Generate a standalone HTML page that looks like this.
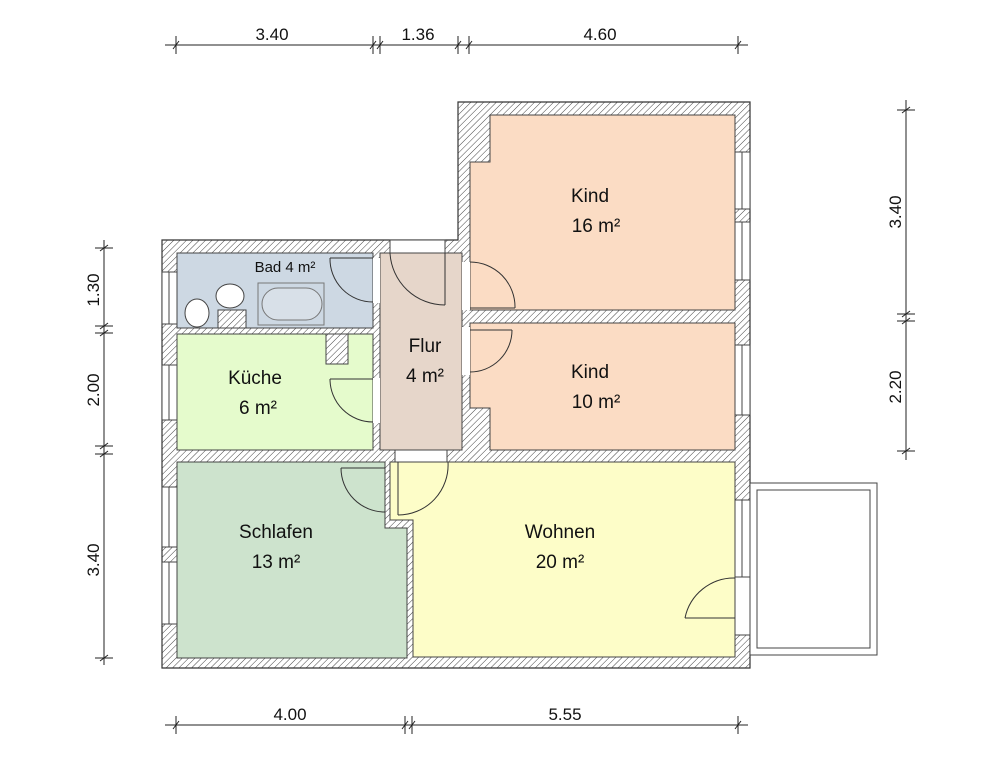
<!DOCTYPE html>
<html><head><meta charset="utf-8"><style>
html,body{margin:0;padding:0;background:#fff}
svg{display:block}
text{font-family:"Liberation Sans",Arial,sans-serif;fill:#111}
</style></head><body>
<svg width="1000" height="766" viewBox="0 0 1000 766" xmlns="http://www.w3.org/2000/svg">
<defs>
<pattern id="h" width="4.5" height="4.5" patternUnits="userSpaceOnUse" patternTransform="rotate(45)">
<rect width="4.5" height="4.5" fill="#fff"/><line x1="0" y1="0" x2="0" y2="4.5" stroke="#444" stroke-width="1"/>
</pattern>
</defs>
<polygon points="162,240 458,240 458,102 750,102 750,668 162,668" fill="url(#h)" stroke="#333" stroke-width="1.2"/>
<rect x="177" y="253" width="196" height="75" fill="#cdd8e3" stroke="#444"/>
<rect x="177" y="334" width="196" height="116" fill="#e5fbcc" stroke="#444"/>
<rect x="326" y="334" width="22" height="30" fill="url(#h)" stroke="#444"/>
<rect x="380" y="253" width="82" height="197" fill="#e6d6ca" stroke="#444"/>
<polygon points="490,115 735,115 735,310 470,310 470,162 490,162" fill="#fbdcc4" stroke="#444"/>
<polygon points="470,323 735,323 735,450 490,450 490,408 470,408" fill="#fbdcc4" stroke="#444"/>
<polygon points="177,462 385,462 385,528 407,528 407,658 177,658" fill="#cde3cd" stroke="#444"/>
<polygon points="390,462 735,462 735,657 413,657 413,520 390,520" fill="#fdfdc8" stroke="#444"/>
<rect x="258" y="283" width="66" height="42" fill="#cdd8e3" stroke="#777"/>
<rect x="262" y="288" width="60" height="32" rx="16" fill="#d8e0e8" stroke="#777"/>
<ellipse cx="197" cy="313" rx="12" ry="14" fill="#fff" stroke="#444"/>
<ellipse cx="230" cy="296" rx="14" ry="12" fill="#fff" stroke="#444"/>
<rect x="218" y="310" width="28" height="18" fill="url(#h)" stroke="#444"/>
<rect x="390" y="240" width="55" height="13" fill="#fff" stroke="#444"/>
<line x1="445" y1="253" x2="445" y2="305" stroke="#333"/>
<path d="M445,305 A55,55 0 0 1 390,253" fill="none" stroke="#333"/>
<rect x="462" y="262" width="8" height="48" fill="#fff"/>
<line x1="470" y1="308" x2="515" y2="308" stroke="#333"/>
<path d="M515,308 A45,45 0 0 0 470,262" fill="none" stroke="#333"/>
<rect x="462" y="327" width="8" height="48" fill="#fff"/>
<line x1="470" y1="330" x2="512" y2="330" stroke="#333"/>
<path d="M512,330 A42,42 0 0 1 470,372" fill="none" stroke="#333"/>
<rect x="373" y="258" width="7" height="45" fill="#fff"/>
<line x1="330" y1="258" x2="373" y2="258" stroke="#333"/>
<path d="M330,258 A43,43 0 0 0 373,302" fill="none" stroke="#333"/>
<rect x="373" y="378" width="7" height="45" fill="#fff"/>
<line x1="330" y1="379" x2="373" y2="379" stroke="#333"/>
<path d="M330,379 A43,43 0 0 0 373,422" fill="none" stroke="#333"/>
<rect x="395" y="450" width="52" height="12" fill="#fff" stroke="#444"/>
<line x1="398" y1="462" x2="398" y2="515" stroke="#333"/>
<path d="M398,515 A50,50 0 0 0 448,462" fill="none" stroke="#333"/>
<line x1="341" y1="468" x2="385" y2="468" stroke="#333"/>
<path d="M341,468 A44,44 0 0 0 385,512" fill="none" stroke="#333"/>
<g fill="#fff" stroke="#444">
<rect x="162" y="272" width="15" height="52"/><line x1="169" y1="272" x2="169" y2="324"/>
<rect x="162" y="365" width="15" height="55"/><line x1="169" y1="365" x2="169" y2="420"/>
<rect x="162" y="487" width="15" height="60"/><line x1="169" y1="487" x2="169" y2="547"/>
<rect x="162" y="562" width="15" height="62"/><line x1="169" y1="562" x2="169" y2="624"/>
<rect x="735" y="152" width="15" height="57"/><line x1="742" y1="152" x2="742" y2="209"/>
<rect x="735" y="222" width="15" height="58"/><line x1="742" y1="222" x2="742" y2="280"/>
<rect x="735" y="345" width="15" height="70"/><line x1="742" y1="345" x2="742" y2="415"/>
<rect x="735" y="500" width="15" height="77"/><line x1="742" y1="500" x2="742" y2="577"/>
<rect x="735" y="577" width="15" height="58"/>
<rect x="750" y="483" width="127" height="172"/>
<rect x="757" y="490" width="113" height="158"/>
</g>
<line x1="685" y1="618" x2="735" y2="618" stroke="#333"/>
<path d="M685,618 A50,50 0 0 1 735,578" fill="none" stroke="#333"/>
<g font-size="19" text-anchor="middle">
<text x="590" y="202">Kind</text><text x="596" y="232">16 m²</text>
<text x="590" y="378">Kind</text><text x="596" y="408">10 m²</text>
<text x="425" y="352">Flur</text><text x="425" y="382">4 m²</text>
<text x="255" y="384">Küche</text><text x="258" y="414">6 m²</text>
<text x="276" y="538">Schlafen</text><text x="276" y="568">13 m²</text>
<text x="560" y="538">Wohnen</text><text x="560" y="568">20 m²</text>
<text x="285" y="272" font-size="15">Bad 4 m²</text>
</g>
<g stroke="#222" stroke-width="1" fill="none">
<line x1="165" y1="45" x2="748" y2="45"/>
<path d="M176,36v18M373,36v18M380,36v18M458,36v18M469,36v18M738,36v18"/>
<path d="M173,49l6,-8M370,49l6,-8M377,49l6,-8M455,49l6,-8M466,49l6,-8M735,49l6,-8"/>
<line x1="165" y1="725" x2="748" y2="725"/>
<path d="M176,716v18M405,716v18M412,716v18M738,716v18"/>
<path d="M173,729l6,-8M402,729l6,-8M409,729l6,-8M735,729l6,-8"/>
<line x1="104" y1="240" x2="104" y2="665"/>
<path d="M95,248h18M95,326h18M95,333h18M95,446h18M95,454h18M95,658h18"/>
<path d="M100,251l8,-6M100,329l8,-6M100,336l8,-6M100,449l8,-6M100,457l8,-6M100,661l8,-6"/>
<line x1="906" y1="100" x2="906" y2="460"/>
<path d="M897,110h18M897,314h18M897,321h18M897,451h18"/>
<path d="M902,113l8,-6M902,317l8,-6M902,324l8,-6M902,454l8,-6"/>
</g>
<g font-size="17" text-anchor="middle">
<text x="272" y="40">3.40</text><text x="418" y="40">1.36</text><text x="600" y="40">4.60</text>
<text x="290" y="720">4.00</text><text x="565" y="720">5.55</text>
<text transform="translate(99,290) rotate(-90)">1.30</text>
<text transform="translate(99,390) rotate(-90)">2.00</text>
<text transform="translate(99,560) rotate(-90)">3.40</text>
<text transform="translate(901,212) rotate(-90)">3.40</text>
<text transform="translate(901,387) rotate(-90)">2.20</text>
</g>
</svg>
</body></html>
